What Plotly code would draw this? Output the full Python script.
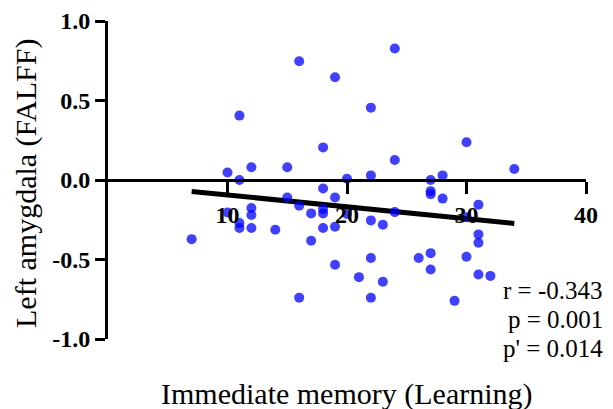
import plotly.graph_objects as go

# Scatter data: Immediate memory (Learning) vs Left amygdala (FALFF)
memory = [16, 19, 11, 18, 10, 12, 15, 11, 20, 18, 19, 15,
          24, 22, 30, 24, 22, 27, 28, 34, 27, 27, 28, 31,
          16, 17, 18, 18, 10, 12, 12, 11, 11, 12, 14, 7,
          17, 18, 19, 20, 19, 16, 24, 22, 23, 30, 31, 31,
          22, 27, 26, 27, 30, 21, 23, 31, 32, 22, 29]
falff = [0.747, 0.646, 0.405, 0.205, 0.047, 0.080, 0.080, 0.000, 0.008, -0.053, -0.110, -0.110,
         0.827, 0.455, 0.237, 0.126, 0.029, 0.000, 0.029, 0.069, -0.070, -0.089, -0.117, -0.155,
         -0.162, -0.210, -0.183, -0.210, -0.204, -0.176, -0.220, -0.271, -0.302, -0.302, -0.313, -0.372,
         -0.382, -0.302, -0.294, -0.214, -0.533, -0.740, -0.202, -0.254, -0.281, -0.235, -0.342, -0.395,
         -0.491, -0.460, -0.491, -0.563, -0.483, -0.611, -0.640, -0.594, -0.603, -0.741, -0.760]

# Regression line endpoints
fit_x = [7, 34]
fit_y = [-0.072, -0.273]

x_ticks = [10, 20, 30, 40]
y_ticks = [-1.0, -0.5, 0.0, 0.5, 1.0]
y_ticklabels = ["-1.0", "-0.5", "0.0", "0.5", "1.0"]

stats = ["r = -0.343", "p = 0.001", "p' = 0.014"]

serif = "Liberation Serif, Times New Roman, serif"

fig = go.Figure()
fig.add_trace(go.Scatter(x=fit_x, y=fit_y, mode="lines",
                         line=dict(color="black", width=5), hoverinfo="skip"))
fig.add_trace(go.Scatter(x=memory, y=falff, mode="markers",
                         marker=dict(size=10, color="rgba(0,0,255,0.75)", line=dict(width=0))))

# The page body has an 8px default margin, so the figure is 8px smaller on each side
fig.update_layout(
    width=605, height=401,
    margin=dict(l=100, r=27, t=13, b=70, autoexpand=False),
    plot_bgcolor="white", paper_bgcolor="white",
    showlegend=False,
    font=dict(family=serif, color="black"),
    xaxis=dict(range=[0, 40], tickvals=x_ticks, showgrid=False, zeroline=False,
               showline=True, linecolor="black", linewidth=3,
               ticks="outside", ticklen=12, tickwidth=3, tickcolor="black",
               tickfont=dict(family=serif, size=24, color="black", weight="bold"),
               anchor="free", position=0.5, automargin=False),
    yaxis=dict(range=[-1, 1], tickvals=y_ticks, ticktext=y_ticklabels,
               showgrid=False, zeroline=False,
               showline=True, linecolor="black", linewidth=3,
               ticks="outside", ticklen=10, tickwidth=3, tickcolor="black",
               tickfont=dict(family=serif, size=24, color="black", weight="bold"),
               automargin=False),
)

# Axis titles
fig.add_annotation(text="Immediate memory (Learning)", xref="paper", yref="paper",
                   x=0.5, y=-0.172, xanchor="center", yanchor="middle", showarrow=False,
                   font=dict(family=serif, size=30, color="black"))
fig.add_annotation(text="Left amygdala (FALFF)", xref="paper", yref="paper",
                   x=-0.172, y=0.49, xanchor="center", yanchor="middle", showarrow=False,
                   textangle=-90, font=dict(family=serif, size=30, color="black"))

# Statistics text
for txt, ypx in zip(stats, [290, 319, 348]):
    fig.add_annotation(text=txt, xref="paper", yref="paper",
                       x=(605 - 108) / 478, y=(338.3 - ypx) / 317.6,
                       xanchor="right", yanchor="middle", showarrow=False,
                       font=dict(family=serif, size=25, color="black"))

fig.write_html("out.html")
